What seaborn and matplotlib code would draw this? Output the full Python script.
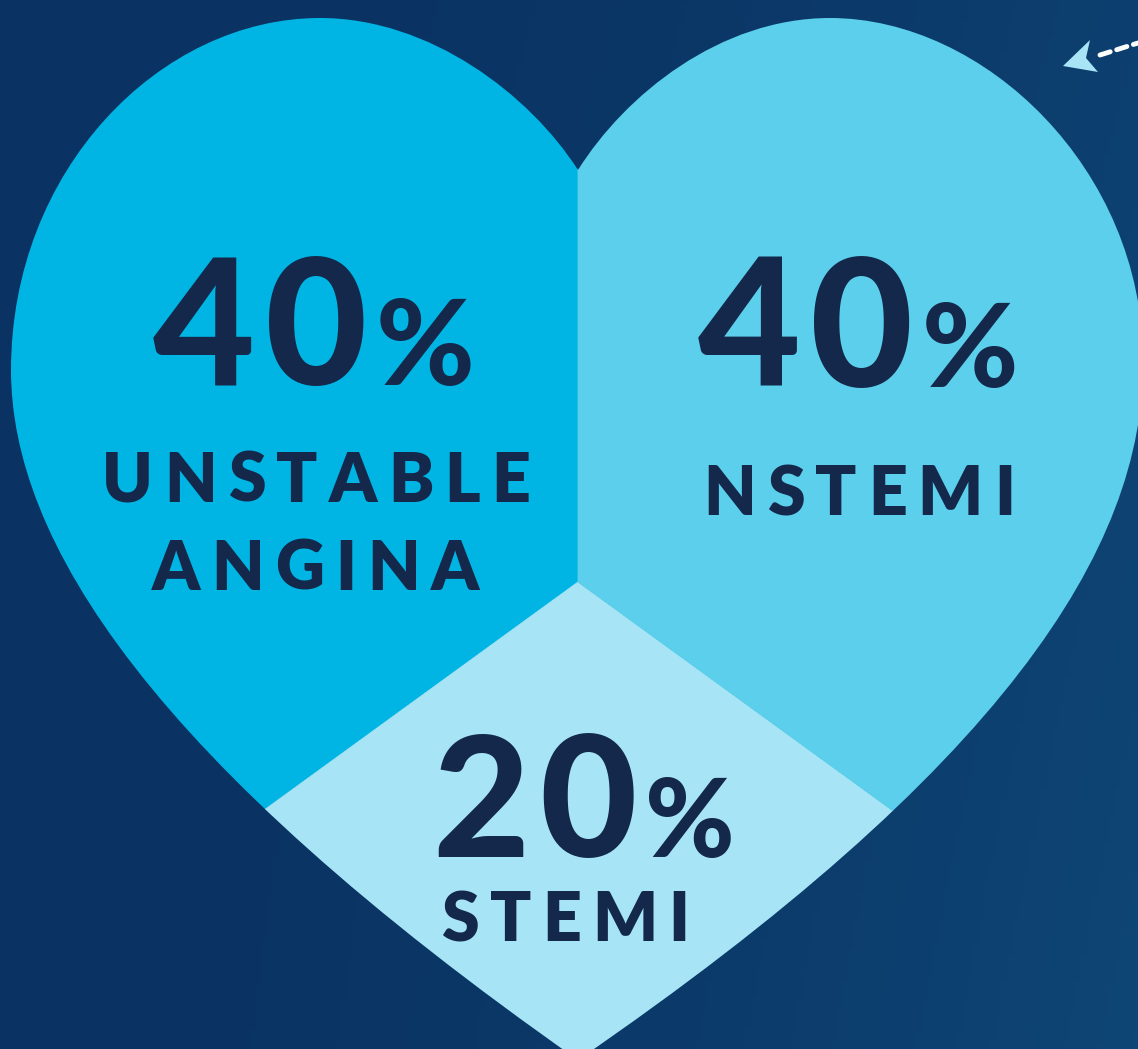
import numpy as np
import matplotlib
matplotlib.use('Agg')
import matplotlib.pyplot as plt
import seaborn as sns
from matplotlib.path import Path
from matplotlib.patches import PathPatch, Polygon

sns.set_theme(style='white')
plt.rcParams['font.family'] = ['Lato', 'DejaVu Sans']

# data shown on the heart
categories = ['UNSTABLE\nANGINA', 'STEMI', 'NSTEMI']
percent_labels = [40, 20, 40]
# share of the heart each slice takes in the picture (angles as drawn)
wedge_share = [35, 30, 35]
colors = ['#00b5e3', '#a7e5f6', '#5bcfeb']

INK = '#13284b'
W, H = 1138, 1049
CX = 578

# left half of the heart as bezier segments (pixel coords, y down)
left_half = [(578, 170),
             (530, 95), (430, 18), (320, 18),
             (160, 18), (11, 170), (11, 370),
             (11, 540), (150, 760), (578, 1060)]
# right half: mirror of the left, nudged a little to follow the picture
right_half = [(578, 1060),
              (1000, 770), (1145, 550), (1143, 360),
              (1143, 170), (985, 18), (830, 18),
              (720, 18), (625, 95), (578, 170)]

verts = [(x, H - y) for x, y in left_half + right_half[1:]]
codes = [Path.MOVETO] + [Path.CURVE4] * (len(verts) - 1)
heart_path = Path(verts, codes)

fig = plt.figure(figsize=(W / 100, H / 100), dpi=100)
ax = fig.add_axes([0, 0, 1, 1])

# background
gx = np.linspace(0, 1, 200)
gy = np.linspace(0, 1, 200)
GX, GY = np.meshgrid(gx, gy)
shade = 0.55 * GX ** 2 + 0.25 * GX * (1 - GY)
bg = matplotlib.colors.LinearSegmentedColormap.from_list('bg', ['#0a3262', '#0e4676'])
ax.imshow(shade, cmap=bg, extent=[0, W, 0, H], origin='lower', aspect='auto', zorder=0)

heart = PathPatch(heart_path, transform=ax.transData, facecolor='none', edgecolor='none')
ax.add_patch(heart)

wedges, _ = ax.pie(wedge_share, colors=colors, startangle=90, counterclock=True,
                   center=(CX, H - 582), radius=1400,
                   wedgeprops=dict(linewidth=0.6))
for w, c in zip(wedges, colors):
    w.set_edgecolor(c)
    w.set_clip_on(True)
    w.set_clip_path(heart)
    w.set_zorder(2)

ax.set_xlim(0, W)
ax.set_ylim(0, H)
ax.set_aspect('auto')
ax.axis('off')

renderer = fig.canvas.get_renderer()


def spaced(cx, base, pieces, track, weight):
    objs = []
    for s, size in pieces:
        for ch in s:
            objs.append(ax.text(0, H - base, ch, fontsize=size, ha='left', va='baseline',
                                color=INK, fontweight=weight, zorder=5))
    widths = [o.get_window_extent(renderer).width for o in objs]
    total = sum(widths) + track * (len(objs) - 1)
    x = cx - total / 2
    for o, w in zip(objs, widths):
        o.set_x(x)
        x += w + track


# percentages and names
num_pos = [(314, 385), (584, 857), (858, 387)]
num_size = [(127, 86), (121, 78), (128, 84)]
name_pos = [[(316, 502), (316, 590)], [(565, 941)], [(859, 515)]]
for cat, pct, (nx, ny), (s1, s2), lines in zip(categories, percent_labels, num_pos,
                                                num_size, name_pos):
    spaced(nx, ny, [(str(pct), s1), ('%', s2)], 9, 'black')
    for line, (lx, ly) in zip(cat.split('\n'), lines):
        spaced(lx, ly, [(line, 49)], 11, 'heavy')

# little arrow in the corner
ax.plot([1100, 1138], [H - 55, H - 43], color='white', lw=3.5, ls=(0, (2.2, 1.4)),
        solid_capstyle='round', dash_capstyle='round', zorder=3)
ax.add_patch(Polygon([(1063, H - 66), (1090, H - 40), (1086, H - 58), (1098, H - 72)],
                     closed=True, facecolor='#a7e5f6', edgecolor='none', zorder=3))

fig.savefig('out.png', dpi=100)
